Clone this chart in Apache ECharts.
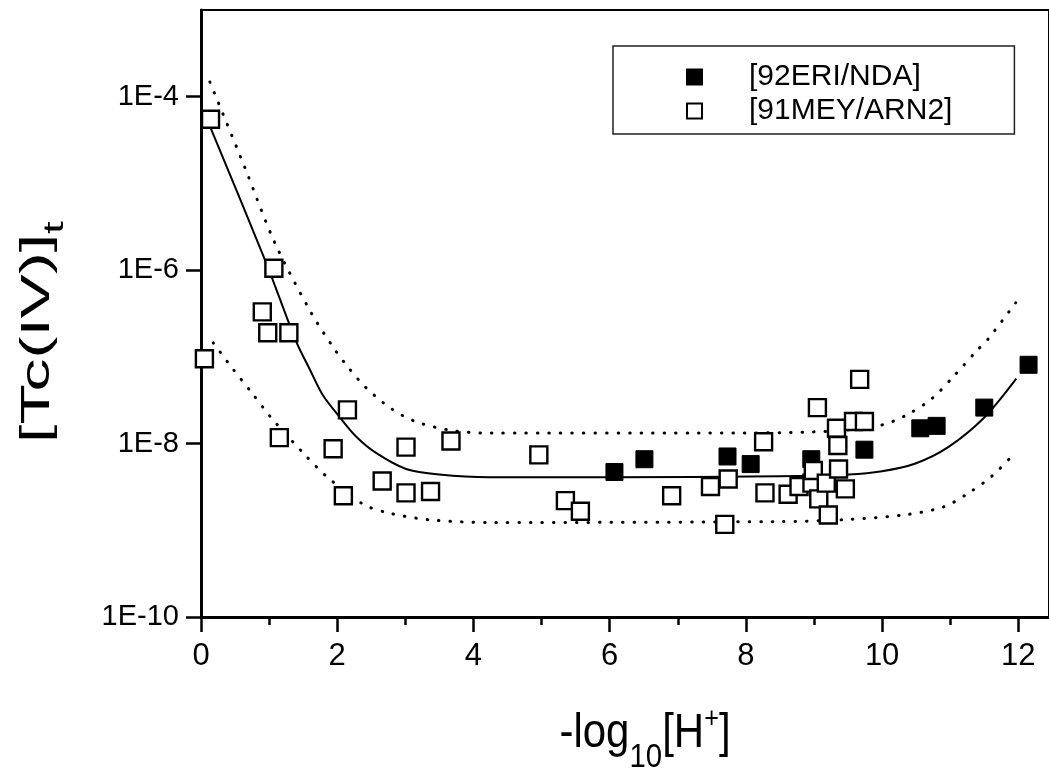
<!DOCTYPE html>
<html>
<head>
<meta charset="UTF-8">
<title>Tc(IV) vs -log10[H+]</title>
<style>
  html, body { margin: 0; padding: 0; background: #fff; }
  #chart { width: 1049px; height: 770px; }
</style>
</head>
<body>
<div id="chart"></div>
<script src="https://cdn.jsdelivr.net/npm/echarts@6/dist/echarts.min.js"></script>
<script>
// tick positions
var xTicks = [0, 2, 4, 6, 8, 10, 12];
var xMinorTicks = [1, 3, 5, 7, 9, 11];
var yTicks = [1e-10, 1e-8, 1e-6, 1e-4];

// [92ERI/NDA] filled squares: [-log10[H+], [Tc(IV)]t]
var eriNda = [
  [6.07, 4.7e-9], [6.51, 6.6e-9], [7.73, 7.1e-9], [8.07, 5.8e-9], [8.96, 6.6e-9],
  [9.74, 8.5e-9], [10.56, 1.5e-8], [10.80, 1.6e-8], [11.50, 2.6e-8], [12.15, 8.1e-8]
];

// [91MEY/ARN2] open squares
var meyArn2 = [
  [0.14, 5.5e-5], [1.07, 1.05e-6], [0.90, 3.3e-7], [0.98, 1.9e-7], [1.29, 1.9e-7],
  [0.05, 9.5e-8], [2.15, 2.45e-8], [1.15, 1.17e-8], [1.94, 8.7e-9], [3.01, 9.1e-9],
  [3.67, 1.07e-8], [2.66, 3.7e-9], [2.09, 2.5e-9], [3.01, 2.7e-9], [3.37, 2.8e-9],
  [4.96, 7.4e-9], [5.35, 2.2e-9], [5.57, 1.66e-9], [6.91, 2.5e-9], [7.48, 3.2e-9],
  [7.74, 3.9e-9], [7.69, 1.17e-9], [8.26, 1.05e-8], [8.28, 2.7e-9], [8.62, 2.6e-9],
  [8.78, 3.2e-9], [8.97, 3.5e-9], [8.99, 4.9e-9], [9.05, 2.6e-8], [9.07, 2.3e-9],
  [9.18, 3.5e-9], [9.21, 1.5e-9], [9.33, 1.5e-8], [9.35, 9.5e-9], [9.36, 5.1e-9],
  [9.46, 3.0e-9], [9.58, 1.8e-8], [9.67, 5.5e-8], [9.74, 1.8e-8]
];

// model curve and its uncertainty band
var fitLine = [
  [0.06, 6.2e-5], [0.96, 1.2e-6], [1.39, 1.55e-7], [1.60, 7.1e-8], [1.79, 3.6e-8],
  [2.04, 2.0e-8], [2.28, 1.2e-8], [2.57, 7.8e-9], [3.01, 5.1e-9], [3.50, 4.4e-9],
  [4.23, 4.1e-9], [6.00, 4.1e-9], [8.48, 4.2e-9], [9.51, 4.4e-9], [10.00, 4.8e-9],
  [10.49, 5.9e-9], [10.97, 9.1e-9], [11.50, 2.0e-8], [11.97, 5.6e-8]
];
var upperBound = [
  [0.13, 1.48e-4], [0.64, 1.55e-5], [1.08, 2.1e-6], [1.62, 3.2e-7], [1.95, 1.26e-7],
  [2.10, 8.7e-8], [2.40, 4.6e-8], [2.77, 2.6e-8], [3.16, 1.78e-8], [3.70, 1.41e-8],
  [4.23, 1.32e-8], [7.31, 1.32e-8], [9.17, 1.38e-8], [9.97, 1.62e-8], [10.34, 2.1e-8],
  [10.73, 3.3e-8], [11.07, 6.2e-8], [11.40, 1.2e-7], [11.56, 1.62e-7], [11.96, 4.2e-7]
];
var lowerBound = [
  [0.18, 1.45e-7], [0.46, 7.4e-8], [0.74, 3.9e-8], [1.04, 1.95e-8], [1.50, 7.8e-9],
  [1.84, 4.2e-9], [2.38, 2.0e-9], [2.76, 1.58e-9], [3.36, 1.32e-9], [4.23, 1.23e-9],
  [8.50, 1.26e-9], [9.41, 1.32e-9], [10.34, 1.51e-9], [10.90, 1.86e-9], [11.24, 2.6e-9],
  [11.61, 4.2e-9], [11.95, 7.8e-9]
];

var FONT = '"Liberation Sans", Arial, Helvetica, sans-serif';
var chart = echarts.init(document.getElementById('chart'));

var dotted = { color: '#000', width: 3, type: [0.5, 11], cap: 'round' };

var option = {
  backgroundColor: '#fff',
  animation: false,
  textStyle: { fontFamily: FONT, color: '#000' },
  grid: {
    left: 201, right: -4, top: 10, bottom: 153,
    show: true, borderColor: '#000', borderWidth: 2
  },
  legend: {
    orient: 'vertical',
    left: 613, top: 46,
    padding: [16, 62, 8, 73],
    itemGap: 4,
    itemWidth: 15, itemHeight: 15,
    borderColor: '#222', borderWidth: 1.5,
    textStyle: { fontSize: 30, color: '#000', fontFamily: FONT, padding: [0, 0, 0, 42] },
    data: ['[92ERI/NDA]', '[91MEY/ARN2]']
  },
  xAxis: [{
    type: 'value', min: 0, max: 12.45,
    axisLine: { lineStyle: { color: '#000', width: 3 } },
    axisTick: { customValues: xTicks, length: 15, lineStyle: { color: '#000', width: 2.5 } },
    axisLabel: { customValues: xTicks, fontSize: 31, color: '#000', margin: 24, fontFamily: FONT },
    splitLine: { show: false }
  }, {
    type: 'value', min: 0, max: 12.45, position: 'bottom', offset: 0,
    axisLine: { show: false },
    axisTick: { customValues: xMinorTicks, length: 8, lineStyle: { color: '#000', width: 2.5 } },
    axisLabel: { show: false },
    splitLine: { show: false }
  }],
  yAxis: {
    type: 'log', logBase: 10, min: 1e-10, max: 1e-3,
    axisLine: { lineStyle: { color: '#000', width: 3 } },
    axisTick: { customValues: yTicks, length: 15, lineStyle: { color: '#000', width: 2.5 } },
    axisLabel: {
      customValues: yTicks, fontSize: 29, color: '#000', margin: 22, fontFamily: FONT,
      formatter: function (v) { return '1E' + Math.round(Math.log10(v)); }
    },
    splitLine: { show: false }
  },
  graphic: [{
    type: 'text',
    x: 645, y: 734, scaleX: 1.05, scaleY: 1.2,
    style: {
      text: '{m|-log}{sub|10}{m|[H}{sup|+}{m|]}',
      align: 'center', verticalAlign: 'middle',
      rich: {
        m: { fontSize: 40, fontFamily: FONT, fill: '#000' },
        sub: { fontSize: 28, fontFamily: FONT, fill: '#000', padding: [40, 0, 0, 0] },
        sup: { fontSize: 24, fontFamily: FONT, fill: '#000', padding: [0, 0, 24, 0] }
      }
    }
  }, {
    type: 'text',
    x: 38, y: 332, rotation: Math.PI / 2, scaleX: 1.65, scaleY: 1.0,
    style: {
      text: '{m|[Tc(IV)]}{sub|t}',
      align: 'center', verticalAlign: 'middle',
      rich: {
        m: { fontSize: 40, fontFamily: FONT, fill: '#000' },
        sub: { fontSize: 28, fontFamily: FONT, fill: '#000', padding: [34, 0, 0, 0] }
      }
    }
  }],
  series: [{
    type: 'line', data: upperBound, showSymbol: false, symbol: 'none', smooth: 0.3,
    lineStyle: dotted, silent: true, z: 1
  }, {
    type: 'line', data: lowerBound, showSymbol: false, symbol: 'none', smooth: 0.3,
    lineStyle: dotted, silent: true, z: 1
  }, {
    type: 'line', data: fitLine, showSymbol: false, symbol: 'none', smooth: 0.3,
    lineStyle: { color: '#000', width: 2 }, silent: true, z: 1
  }, {
    name: '[92ERI/NDA]', type: 'scatter', data: eriNda,
    symbol: 'rect', symbolSize: 17,
    itemStyle: { color: '#000', borderColor: '#000', borderWidth: 1, opacity: 1 }, z: 3
  }, {
    name: '[91MEY/ARN2]', type: 'scatter', data: meyArn2,
    symbol: 'rect', symbolSize: 17,
    itemStyle: { color: '#fff', borderColor: '#000', borderWidth: 2.4, opacity: 1 }, z: 4
  }]
};

chart.setOption(option);
</script>
</body>
</html>
